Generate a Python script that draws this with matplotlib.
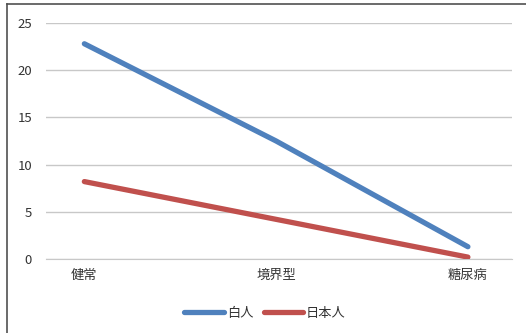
import matplotlib
matplotlib.use("Agg")
import matplotlib.pyplot as plt
from matplotlib.lines import Line2D

plt.rcParams['font.family'] = ['Noto Sans CJK JP', 'DejaVu Sans']

categories = ["健常", "境界型", "糖尿病"]
white = [22.8, 12.5, 1.3]
japanese = [8.2, 4.2, 0.2]
series_names = ["白人", "日本人"]
yticks = [0, 5, 10, 15, 20, 25]

W, H = 526, 333
fig = plt.figure(figsize=(W / 100, H / 100), dpi=100)
ax = fig.add_axes([46 / W, 1 - 259 / H, (512 - 46) / W, (259 - 23) / H])

x = range(len(categories))
ax.plot(x, white, color="#4F81BD", linewidth=3.8, solid_capstyle="round",
        label=series_names[0], zorder=3)
ax.plot(x, japanese, color="#C0504D", linewidth=3.8, solid_capstyle="round",
        label=series_names[1], zorder=3)

ax.set_xlim(-0.2, 2.23)
ax.set_ylim(0, 25)
ax.set_yticks(yticks)
ax.set_xticks(list(x))
ax.set_xticklabels(categories)
ax.grid(axis="y", color="#C8C8C8", linewidth=1)
ax.set_axisbelow(True)
for s in ["top", "right", "left"]:
    ax.spines[s].set_visible(False)
ax.spines["bottom"].set_color("#C8C8C8")
ax.tick_params(axis="both", length=0, labelsize=9.5, colors="#333333")
ax.tick_params(axis="y", pad=10)
ax.tick_params(axis="x", pad=7)

ax.legend(loc="center", bbox_to_anchor=(0.47, -0.23), ncol=2, frameon=False,
          fontsize=9.5, handlelength=3.0, handletextpad=0.2, columnspacing=0.8,
          labelcolor="#333333")

# outer chart frame (left and top edges visible)
fig.add_artist(Line2D([7 / W, 7 / W], [0, 1 - 4 / H], transform=fig.transFigure,
                      color="#505050", linewidth=1.2))
fig.add_artist(Line2D([7 / W, 1], [1 - 4 / H, 1 - 4 / H], transform=fig.transFigure,
                      color="#505050", linewidth=1.2))

fig.savefig("out.png", dpi=100)
